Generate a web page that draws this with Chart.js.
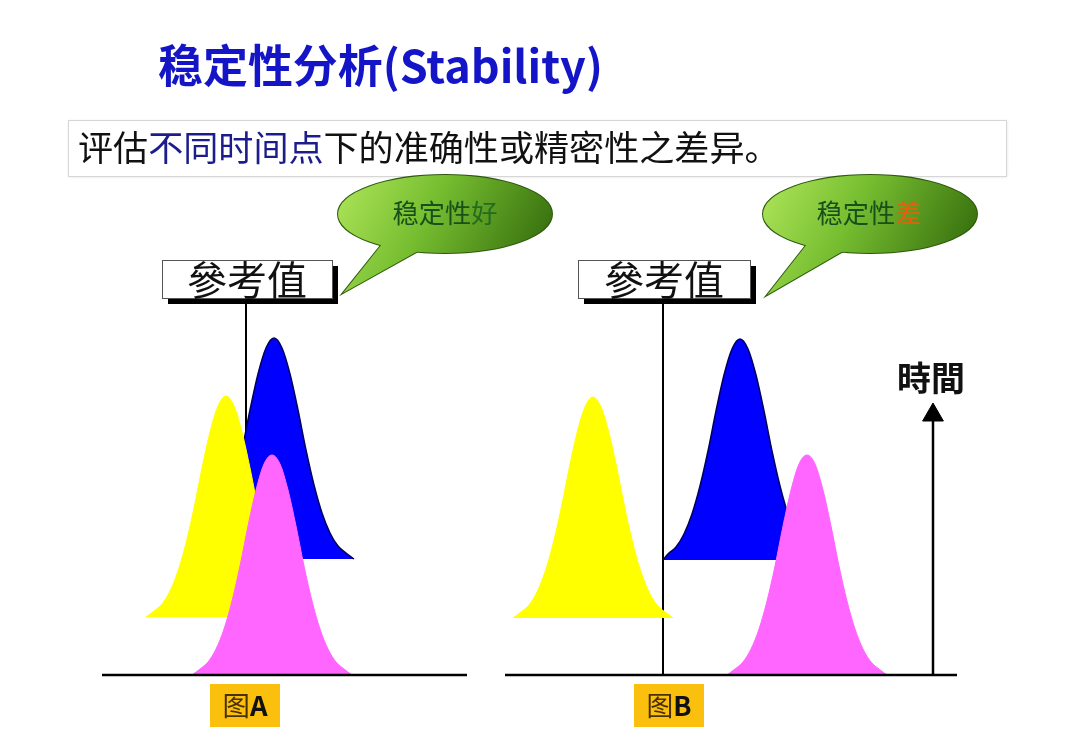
<!DOCTYPE html>
<html>
<head>
<meta charset="utf-8">
<script src="https://cdn.jsdelivr.net/npm/chart.js@4/dist/chart.umd.min.js"></script>
<style>
html,body{margin:0;padding:0;background:#fff;}
#c{display:block;}
</style>
</head>
<body>
<canvas id="c" width="1080" height="745"></canvas>
<script>
// ---- data (x = measured value units, y = time/height units above the axis) ----
const yellowA_x = [146,154,162,170,178,186,194,202,210,218,226,234,242,250,258,266,274,282,290,298,306];
const yellowA_y = [58,64,71,84,104,132,167,207,243,269,279,269,243,207,167,132,104,84,71,64,58];
const blueA_x   = [194,202,210,218,226,234,242,250,258,266,274,282,290,298,306,314,322,330,338,346,354];
const blueA_y   = [116,122,129,142,162,190,225,265,301,327,337,327,301,265,225,190,162,142,129,122,116];
const pinkA_x   = [192,200,208,216,224,232,240,248,256,264,272,280,288,296,304,312,320,328,336,344,352];
const pinkA_y   = [0,6,13,26,46,74,109,149,185,211,220,211,185,149,109,74,46,26,13,6,0];

const yellowB_x = [513,521,529,537,545,553,561,569,577,585,593,601,609,617,625,633,641,649,657,665,673];
const yellowB_y = [57,63,70,83,103,131,166,206,242,268,278,268,242,206,166,131,103,83,70,63,57];
const blueB_x   = [663,668,676,684,692,700,708,716,724,732,740,748,756,764,772,780,788,796,804,812,820];
const blueB_y   = [115,121,128,141,161,189,224,264,300,326,336,326,300,264,224,189,161,141,128,121,115];
const pinkB_x   = [727,735,743,751,759,767,775,783,791,799,807,815,823,831,839,847,855,863,871,879,887];
const pinkB_y   = [0,6,13,26,46,74,109,149,185,211,220,211,185,149,109,74,46,26,13,6,0];

const curveBaselines = { yellowA:58, blueA:116, pinkA:0, yellowB:57, blueB:115, pinkB:0 };
const referenceValues = [246, 663];   // reference value for panel A and panel B
const referenceTop = 385;
const axisA_x = [102, 467];
const axisB_x = [505, 957];
const timeArrow_x = 933;
const timeArrow_top = 260;

const titleText = '稳定性分析(Stability)';
const subtitleParts = ['评估', '不同时间点', '下的准确性或精密性之差异。'];
const bubbleA = ['稳定性', '好'];
const bubbleB = ['稳定性', '差'];
const refLabel = '參考值';
const timeLabel = '時間';
const panelLabels = [['图','A'], ['图','B']];

// ---- helpers ----
const pts = (xs, ys) => xs.map((x, i) => ({x: x, y: ys[i]}));
const lineSet = (data, order, width) => ({
  data: data, borderColor: '#000', borderWidth: width || 2.5, pointRadius: 0,
  fill: false, tension: 0, order: order
});
const curveSet = (xs, ys, base, color, border, order) => ({
  data: pts(xs, ys), borderColor: border || color, borderWidth: border ? 1.5 : 1,
  backgroundColor: color, fill: {value: base}, pointRadius: 0,
  cubicInterpolationMode: 'monotone', order: order
});

const FONT = '"Noto Sans CJK SC","Noto Sans CJK TC","Noto Sans",sans-serif';
const FONT_TC = '"Noto Sans CJK TC","Noto Sans CJK SC",sans-serif';

function drawRuns(ctx, parts, x, cy, targetW, align, family) {
  family = family || FONT;
  let w = 0;
  parts.forEach(p => { ctx.font = (p.weight || 400) + ' 100px ' + family; w += ctx.measureText(p.t).width; });
  const size = 100 * targetW / w;
  let left = align === 'center' ? x - targetW / 2 : x;
  ctx.textBaseline = 'middle';
  ctx.textAlign = 'left';
  parts.forEach(p => {
    ctx.font = (p.weight || 400) + ' ' + size.toFixed(2) + 'px ' + family;
    ctx.fillStyle = p.color;
    ctx.fillText(p.t, left, cy);
    left += ctx.measureText(p.t).width;
  });
}

function bubble(ctx, cx, cy, rx, ry, b1, b2, tip) {
  const g = ctx.createLinearGradient(cx - rx, cy - ry, cx + rx * 0.8, cy + ry * 1.6);
  g.addColorStop(0, '#b0e65a');
  g.addColorStop(0.45, '#76bd30');
  g.addColorStop(1, '#376f0e');
  ctx.save();
  ctx.lineWidth = 2;
  ctx.strokeStyle = '#2d5a0c';
  ctx.beginPath(); ctx.ellipse(cx, cy, rx, ry, 0, 0, Math.PI * 2); ctx.stroke();
  ctx.beginPath(); ctx.moveTo(b1[0], b1[1]); ctx.lineTo(tip[0], tip[1]); ctx.lineTo(b2[0], b2[1]); ctx.closePath(); ctx.stroke();
  ctx.fillStyle = g;
  ctx.beginPath(); ctx.ellipse(cx, cy, rx, ry, 0, 0, Math.PI * 2); ctx.fill();
  ctx.beginPath(); ctx.moveTo(b1[0], b1[1]); ctx.lineTo(tip[0], tip[1]); ctx.lineTo(b2[0], b2[1]); ctx.closePath(); ctx.fill();
  ctx.restore();
}

function refBox(ctx, x, y, w, h, cx) {
  ctx.save();
  ctx.fillStyle = '#000';
  ctx.fillRect(x + 6, y + 6, w, h);
  ctx.fillStyle = '#fff';
  ctx.fillRect(x, y, w, h);
  ctx.strokeStyle = '#555';
  ctx.lineWidth = 1;
  ctx.strokeRect(x + 0.5, y + 0.5, w, h);
  drawRuns(ctx, [{t: refLabel, color: '#111', weight: 400}], cx, y + h / 2 + 1, 120, 'center', FONT_TC);
  ctx.restore();
}

const decorations = {
  id: 'decorations',
  afterDatasetsDraw(chart) {
    const ctx = chart.ctx;
    const sx = chart.scales.x, sy = chart.scales.y;
    const X = v => sx.getPixelForValue(v);
    const Y = py => sy.getPixelForValue(675 - py);
    ctx.save();
    drawRuns(ctx, [{t: titleText, color: '#1515c8', weight: 700}], X(158), Y(66), 445, 'left');
    ctx.save();
    ctx.shadowColor = 'rgba(0,0,0,0.12)'; ctx.shadowBlur = 3; ctx.shadowOffsetX = 1; ctx.shadowOffsetY = 1;
    ctx.fillStyle = '#fff';
    ctx.fillRect(X(68), Y(120), 938, 56);
    ctx.restore();
    ctx.strokeStyle = '#d6d6d6'; ctx.lineWidth = 1;
    ctx.strokeRect(X(68) + 0.5, Y(120) + 0.5, 938, 56);
    drawRuns(ctx, [
      {t: subtitleParts[0], color: '#111'},
      {t: subtitleParts[1], color: '#1c1c8c'},
      {t: subtitleParts[2], color: '#111'}
    ], X(78), Y(148), 702, 'left');
    bubble(ctx, X(445), Y(214), 107, 39, [X(382), Y(244)], [X(420), Y(250)], [X(343), Y(293)]);
    bubble(ctx, X(870), Y(214), 107, 39, [X(807), Y(244)], [X(845), Y(250)], [X(767), Y(295)]);
    drawRuns(ctx, [{t: bubbleA[0], color: '#17501a'}, {t: bubbleA[1], color: '#236b22'}], X(445), Y(213), 105, 'center');
    drawRuns(ctx, [{t: bubbleB[0], color: '#17501a'}, {t: bubbleB[1], color: '#f05a0a'}], X(869), Y(213), 105, 'center');
    refBox(ctx, X(162), Y(260), 170, 38, X(247));
    refBox(ctx, X(578), Y(260), 172, 38, X(664));
    drawRuns(ctx, [{t: timeLabel, color: '#111', weight: 700}], X(931), Y(378), 68, 'center', FONT_TC);
    [[210, 245], [634, 669]].forEach((p, i) => {
      ctx.fillStyle = '#fbbf0e';
      ctx.fillRect(X(p[0]), Y(684), 70, 43);
      drawRuns(ctx, [{t: panelLabels[i][0], color: '#4a3000', weight: 400}, {t: panelLabels[i][1], color: '#111', weight: 700}],
        X(p[1]), Y(706), 45, 'center', '"Noto Sans CJK SC", "Liberation Sans", sans-serif');
    });
    ctx.restore();
  }
};

new Chart(document.getElementById('c'), {
  type: 'line',
  data: {
    datasets: [
      lineSet([{x: axisA_x[0], y: 0}, {x: axisA_x[1], y: 0}], 0, 2.5),
      lineSet([{x: axisB_x[0], y: 0}, {x: axisB_x[1], y: 0}], 0, 2.5),
      lineSet([{x: timeArrow_x, y: 0}, {x: timeArrow_x, y: timeArrow_top - 4}], 0, 2.5),
      {
        data: [{x: timeArrow_x, y: timeArrow_top}], showLine: false, pointStyle: 'triangle',
        pointRadius: 12, pointBackgroundColor: '#000', pointBorderColor: '#000', borderWidth: 1, order: 0
      },
      curveSet(pinkA_x, pinkA_y, curveBaselines.pinkA, '#ff66ff', null, 1),
      curveSet(pinkB_x, pinkB_y, curveBaselines.pinkB, '#ff66ff', null, 1),
      curveSet(yellowA_x, yellowA_y, curveBaselines.yellowA, '#ffff00', null, 2),
      curveSet(yellowB_x, yellowB_y, curveBaselines.yellowB, '#ffff00', null, 2),
      curveSet(blueA_x, blueA_y, curveBaselines.blueA, '#0000ff', '#00005a', 3),
      curveSet(blueB_x, blueB_y, curveBaselines.blueB, '#0000ff', '#00005a', 3),
      lineSet([{x: referenceValues[0], y: 0}, {x: referenceValues[0], y: referenceTop}], 4, 2),
      lineSet([{x: referenceValues[1], y: 0}, {x: referenceValues[1], y: referenceTop}], 4, 2)
    ]
  },
  options: {
    responsive: false,
    animation: false,
    events: [],
    layout: {padding: 0, autoPadding: false},
    scales: {
      x: {type: 'linear', min: 0, max: 1080, display: false},
      y: {type: 'linear', min: -70, max: 675, display: false}
    },
    plugins: {legend: {display: false}, tooltip: {enabled: false}, title: {display: false}}
  },
  plugins: [decorations]
});
</script>
</body>
</html>
